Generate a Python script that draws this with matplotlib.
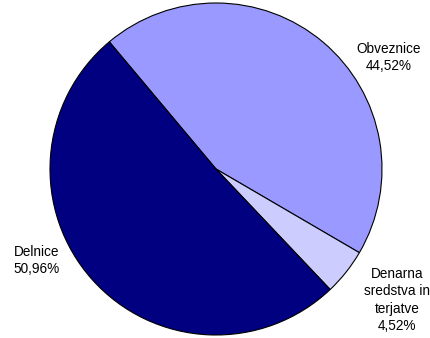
import matplotlib.pyplot as plt

plt.rcParams['font.family'] = ['Liberation Sans', 'DejaVu Sans']

# data
labels = ["Obveznice\n44,52%", "Denarna\nsredstva in\nterjatve\n4,52%", "Delnice\n50,96%"]
values = [44.52, 4.52, 50.96]
colors = ["#9999FF", "#CCCCFF", "#000080"]

# label positions (in pie radius units)
label_pos = [(1.04, 0.67), (1.09, -0.79), (-1.08, -0.55)]

fig = plt.figure(figsize=(4.3, 3.38), dpi=100)
# place the pie so that its center and radius match
r = 166
cx, cy = 216, 169
ax = fig.add_axes([(cx - r) / 430, (338 - cy - r) / 338, 2 * r / 430, 2 * r / 338])

ax.pie(values, colors=colors, startangle=130, counterclock=False,
       wedgeprops=dict(edgecolor="black", linewidth=0.8))
ax.set_xlim(-1, 1)
ax.set_ylim(-1, 1)
ax.set_aspect("equal")
ax.axis("off")

for lab, (x, y) in zip(labels, label_pos):
    ax.text(x, y, lab, ha="center", va="center", fontsize=9.8, clip_on=False,
            linespacing=1.3)

fig.savefig("out.png", dpi=100)
